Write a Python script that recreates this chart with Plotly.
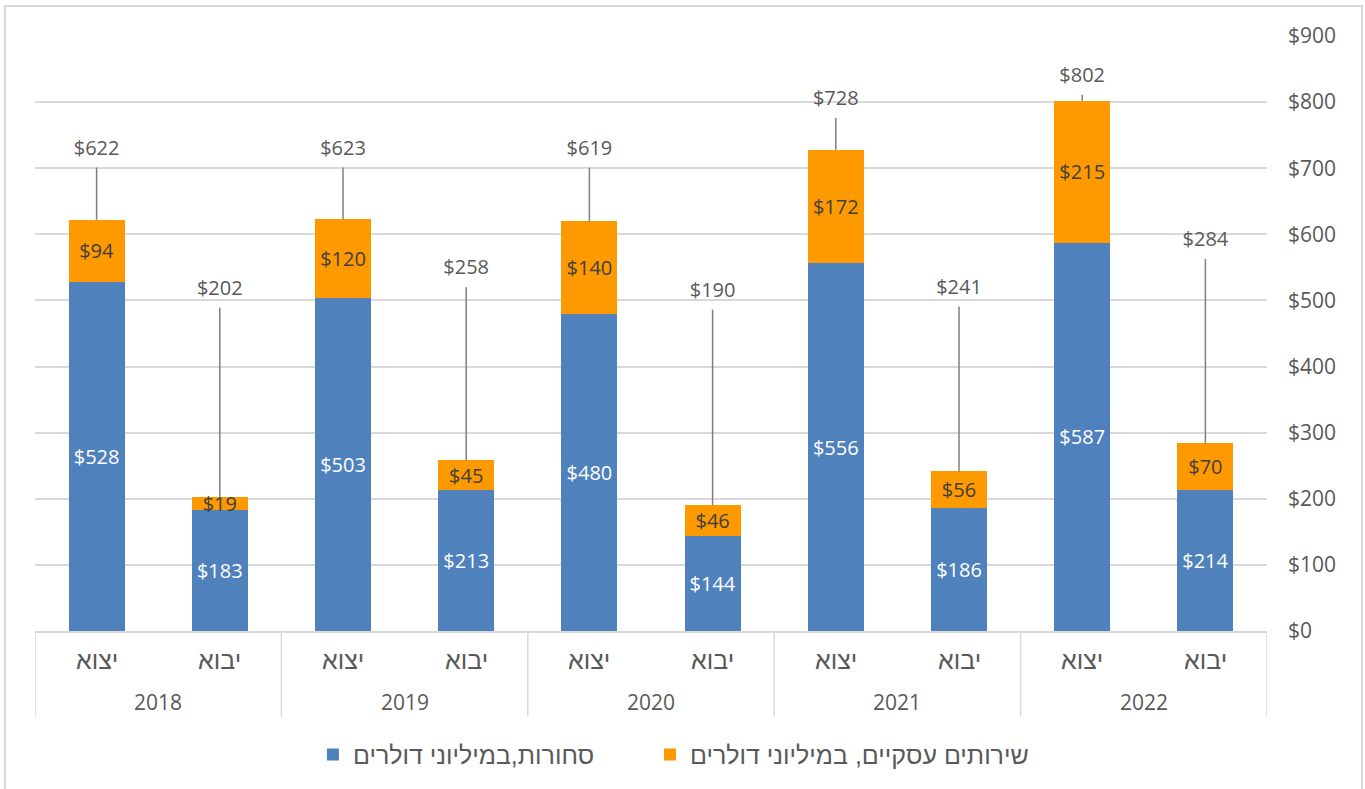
import plotly.graph_objects as go

# ---- data ----
years = ["2018", "2019", "2020", "2021", "2022"]
flows = ["יצוא", "יבוא"]  # export, import

export_goods = [528, 503, 480, 556, 587]
export_services = [94, 120, 140, 172, 215]
export_total = [622, 623, 619, 728, 802]

import_goods = [183, 213, 144, 186, 214]
import_services = [19, 45, 46, 56, 70]
import_total = [202, 258, 190, 241, 284]

series_goods_name = "סחורות,במיליוני דולרים"
series_services_name = "שירותים עסקיים, במיליוני דולרים"

# label placement (layout, in axis units) for the total labels
export_label_y = [728, 728, 728, 803, 838]
import_label_y = [516, 547, 513, 518, 590]

# ---- build flat sequences ----
xs, goods, services, totals, label_y = [], [], [], [], []
for yi, yr in enumerate(years):
    for fi, fl in enumerate(flows):
        xs.append(2 * yi + fi)
        if fi == 0:
            goods.append(export_goods[yi]); services.append(export_services[yi])
            totals.append(export_total[yi]); label_y.append(export_label_y[yi])
        else:
            goods.append(import_goods[yi]); services.append(import_services[yi])
            totals.append(import_total[yi]); label_y.append(import_label_y[yi])

FONT = "Open Sans, DejaVu Sans, Liberation Sans, sans-serif"
HFONT = "Liberation Sans, Arial, DejaVu Sans, sans-serif"
GRID = "#D9D9D9"
TXT = "#595959"
BLUE = "#4F81BD"
ORANGE = "#FF9900"
BW = 0.455

fig = go.Figure()
fig.add_trace(go.Bar(
    x=xs, y=goods, name=series_goods_name, marker=dict(color=BLUE, line=dict(width=0)),
    width=BW, text=[f"${v}" for v in goods], textposition="inside",
    insidetextanchor="middle", constraintext="none", legend="legend",
    textfont=dict(color="white", size=20, family=FONT), hoverinfo="skip"))
fig.add_trace(go.Bar(
    x=xs, y=services, name=series_services_name, marker=dict(color=ORANGE, line=dict(width=0)),
    width=BW, text=[f"${v}" for v in services], textposition="inside",
    insidetextanchor="middle", constraintext="none", legend="legend2",
    textfont=dict(color="#404040", size=20, family=FONT), hoverinfo="skip"))

# leader lines
lx, ly = [], []
for x, t, l in zip(xs, totals, label_y):
    lx += [x, x, None]
    ly += [t, l - 27, None]
fig.add_trace(go.Scatter(x=lx, y=ly, mode="lines", line=dict(color="#7F7F7F", width=1.5),
                         showlegend=False, hoverinfo="skip"))
fig.add_trace(go.Scatter(x=xs, y=label_y, mode="text", text=[f"${v}" for v in totals],
                         textfont=dict(color=TXT, size=20, family=FONT),
                         showlegend=False, hoverinfo="skip"))

annotations = []
shapes = []
# category labels
for x in xs:
    annotations.append(dict(x=x, y=-0.0487, xref="x", yref="paper", text=flows[x % 2],
                            showarrow=False, font=dict(size=25, color=TXT, family=HFONT),
                            yanchor="middle"))
for yi, yr in enumerate(years):
    annotations.append(dict(x=2 * yi + 0.5, y=-0.119, xref="x", yref="paper", text=yr,
                            showarrow=False, font=dict(size=21, color=TXT, family=FONT),
                            yanchor="middle"))
# dividers
for k in range(len(years) + 1):
    shapes.append(dict(type="line", xref="x", yref="paper", x0=2 * k - 0.5, x1=2 * k - 0.5,
                       y0=0, y1=-0.144, line=dict(color=GRID, width=1.5)))
# outer border
shapes.append(dict(type="rect", xref="paper", yref="paper", x0=-0.0244, x1=1.0771,
                   y0=-0.30, y1=1.0503, line=dict(color=GRID, width=2), layer="below"))

legend_common = dict(orientation="h", y=-0.206, yanchor="middle", xanchor="left",
                     font=dict(size=25, color=TXT, family=HFONT), itemwidth=30)

fig.update_layout(
    width=1365, height=789,
    margin=dict(l=35, r=98, t=36, b=157),
    barmode="stack",
    paper_bgcolor="white", plot_bgcolor="white",
    font=dict(family=FONT, color=TXT),
    showlegend=True,
    legend=dict(x=0.2256, **legend_common),
    legend2=dict(x=0.4992, **legend_common),
    xaxis=dict(range=[-0.5, 9.5], showticklabels=False, showgrid=False, zeroline=False,
               showline=True, linecolor=GRID, linewidth=1.5, ticks=""),
    yaxis=dict(side="right", range=[0, 900], dtick=100, tickprefix="$",
               showgrid=True, gridcolor=GRID, gridwidth=1.5, zeroline=False,
               tickfont=dict(size=21, color=TXT, family=FONT), ticklabelstandoff=20),
    annotations=annotations, shapes=shapes,
)

fig.write_html("out.html")
